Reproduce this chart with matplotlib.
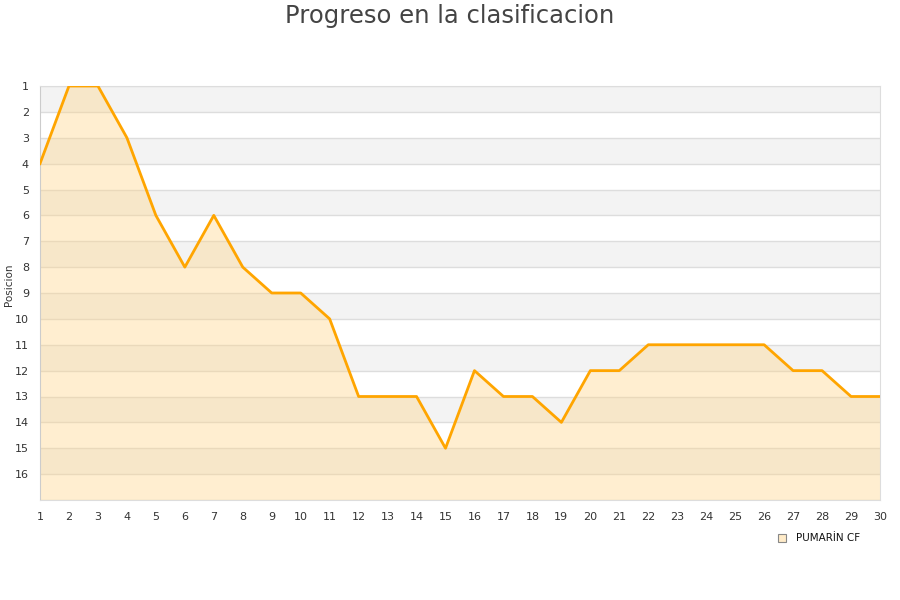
import matplotlib
matplotlib.use("Agg")
import matplotlib.pyplot as plt
import numpy as np

jornadas = list(range(1, 31))
posiciones = [4, 1, 1, 3, 6, 8, 6, 8, 9, 9, 10, 13, 13, 13, 15,
              12, 13, 13, 14, 12, 12, 11, 11, 11, 11, 11, 12, 12, 13, 13]
equipo = 'PUMARİN CF'
n_equipos = 16

fig = plt.figure(figsize=(9, 6), dpi=100)
ax = fig.add_axes([40 / 900, 100 / 600, 840 / 900, 414 / 600])

# franjas alternas
for p in range(1, n_equipos + 1, 2):
    ax.axhspan(p, p + 1, color='#f3f3f3', zorder=0, lw=0)
for p in range(1, n_equipos + 2):
    ax.axhline(p, color='#dddddd', lw=1, zorder=1)

ax.fill_between(jornadas, posiciones, n_equipos + 1, color='#ffd58a', alpha=0.4,
                lw=0, zorder=2)
ax.plot(jornadas, posiciones, color='#ffa500', lw=2, zorder=3)

ax.set_xlim(1, 30)
ax.set_ylim(n_equipos + 1, 1)
ax.set_xticks(jornadas)
ax.set_yticks(range(1, n_equipos + 1))
ax.tick_params(length=0, labelsize=8, colors='#333333')
ax.tick_params(axis='y', pad=8)
ax.tick_params(axis='x', pad=9)
for s in ax.spines.values():
    s.set_color('#dddddd')
ax.spines['left'].set_color('#cccccc')
ax.set_ylabel('Posicion', fontsize=7.5, color='#333333')
ax.yaxis.set_label_coords(-26 / 840, 0.52)

fig.text(0.5, 0.993, 'Progreso en la clasificacion', ha='center', va='top',
         fontsize=17.5, color='#444444')

# leyenda
fig.patches.append(plt.Rectangle((778 / 900, 1 - 542 / 600), 8 / 900, 8 / 600,
                                 transform=fig.transFigure, facecolor='#ffebc8',
                                 edgecolor='#888888', lw=0.8))
fig.text(796 / 900, 1 - 538 / 600, equipo, fontsize=7.5, va='center',
         color='#111111')

fig.savefig('out.png', dpi=100)
